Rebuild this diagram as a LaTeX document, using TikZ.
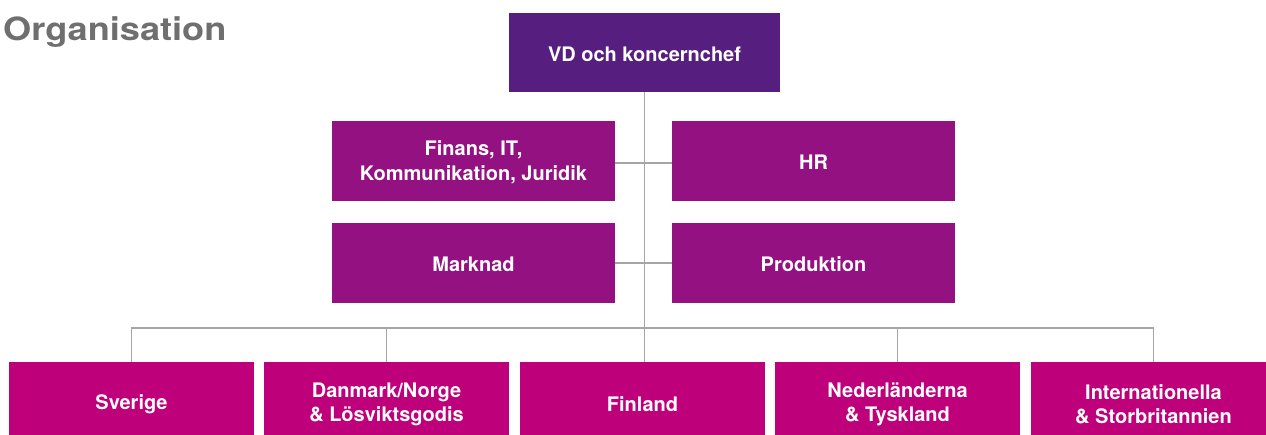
\documentclass[tikz,border=0pt]{standalone}
\usepackage{fontspec}
\setmainfont{TeX Gyre Heros}
\usepackage{graphicx}
\definecolor{topc}{HTML}{561E7E}
\definecolor{midc}{HTML}{931180}
\definecolor{botc}{HTML}{BE007A}
\definecolor{linec}{HTML}{A5A5A5}
\definecolor{titlec}{HTML}{6F6F6F}
\begin{document}
\begin{tikzpicture}[x=1pt,y=-1pt,
  txt/.style={inner sep=0pt, align=center, text=white, yshift=-1.5pt,
    font=\fontsize{20}{24.5}\selectfont\bfseries},
  box/.style={inner sep=0pt},
  topbox/.style={box, fill=topc, minimum width=271pt, minimum height=79pt},
  midbox/.style={box, fill=midc, minimum width=283pt, minimum height=80pt},
  botbox/.style={box, fill=botc, minimum width=245pt, minimum height=82pt},
  conn/.style={draw=linec, line width=1.3pt}]
\useasboundingbox (0,0) rectangle (1266,435);
\node[anchor=base west, inner sep=0pt, text=titlec, font=\fontsize{32}{36}\selectfont\bfseries] (title) at (3,41) {\scalebox{1.13}[1]{Organisation}};
\node[topbox, label={[txt,name=top-t]center:VD och koncernchef}] (top) at (644.5,52.5) {};
\node[midbox, label={[txt,name=fin-t]center:{Finans, IT,\\Kommunikation, Juridik}}] (fin) at (473.5,161) {};
\node[midbox, label={[txt,name=hr-t]center:HR}] (hr) at (813.5,161) {};
\node[midbox, label={[txt,name=mark-t]center:Marknad}] (mark) at (473.5,263) {};
\node[midbox, label={[txt,name=prod-t]center:Produktion}] (prod) at (813.5,263) {};
\node[botbox, label={[txt,name=b1-t]center:Sverige}] (b1) at (131.5,403) {};
\node[botbox, label={[txt,name=b2-t]center:{Danmark/Norge\\\& Lösviktsgodis}}] (b2) at (386.5,403) {};
\node[botbox, label={[txt,name=b3-t]center:Finland}] (b3) at (642.5,403) {};
\node[botbox, label={[txt,name=b4-t]center:{Nederländerna\\\& Tyskland}}] (b4) at (897.5,403) {};
\node[botbox, label={[txt,name=b5-t]center:{Internationella\\\& Storbritannien}}] (b5) at (1153.5,403) {};
\coordinate (bus) at (644.5,328);
\draw[conn] (top.south) -- (bus);
\draw[conn] ([yshift=-2pt]fin.east) -- ([yshift=-2pt]hr.west);
\draw[conn] (mark.east) -- (prod.west);
\draw[conn] (b1.north) |- (bus) -| (b5.north);
\draw[conn] (b2.north) -- (b2.north |- bus);
\draw[conn] (bus) -- (bus |- b3.north);
\draw[conn] (b4.north) -- (b4.north |- bus);
\end{tikzpicture}
\end{document}
